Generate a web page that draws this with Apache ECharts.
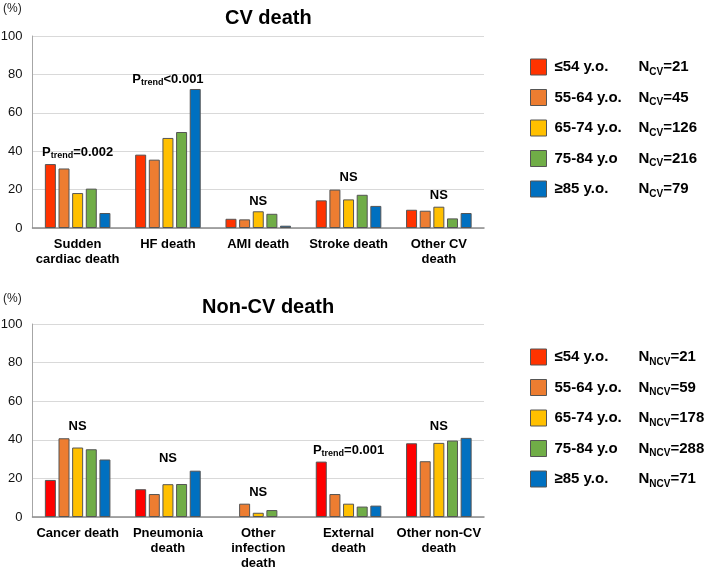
<!DOCTYPE html>
<html><head><meta charset="utf-8">
<script src="https://cdn.jsdelivr.net/npm/echarts@6/dist/echarts.min.js"></script>
<style>html,body{margin:0;padding:0;background:#fff}#c{width:709px;height:570px}</style>
</head><body><div id="c"></div>
<script>
const categoriesCV = ['Sudden\ncardiac death', 'HF death', 'AMI death', 'Stroke death', 'Other CV\ndeath'];
const categoriesNCV = ['Cancer death', 'Pneumonia\ndeath', 'Other\ninfection\ndeath', 'External\ndeath', 'Other non-CV\ndeath'];
const ageGroups = ['≤54 y.o.', '55-64 y.o.', '65-74 y.o.', '75-84 y.o', '≥85 y.o.'];
const nCV = [21, 45, 126, 216, 79];
const nNCV = [21, 59, 178, 288, 71];
const yTicks = [0, 20, 40, 60, 80, 100];

// CV death (%) by age group, per category
const cvAge54 = [33.3, 38.2, 4.8, 14.4, 9.5];
const cvAge55 = [31.0, 35.6, 4.5, 20.0, 9.0];
const cvAge65 = [18.2, 46.9, 8.7, 14.9, 11.1];
const cvAge75 = [20.5, 50.0, 7.4, 17.3, 5.0];
const cvAge85 = [7.8, 72.4, 1.2, 11.5, 7.8];

// Non-CV death (%)
const ncvAge54 = [19.2, 14.4, null, 28.7, 38.2];
const ncvAge55 = [40.8, 11.9, 6.9, 11.9, 28.9];
const ncvAge65 = [36.0, 17.0, 2.2, 6.9, 38.4];
const ncvAge75 = [35.1, 17.1, 3.6, 5.4, 39.6];
const ncvAge85 = [29.8, 24.0, null, 5.9, 41.0];

// annotations: [category index, label type, p-value text, y position]
const cvNotes = [[0, 'p', '=0.002', 39.4], [1, 'p', '<0.001', 77.6], [2, 'ns', 'NS', 13.8], [3, 'ns', 'NS', 26.2], [4, 'ns', 'NS', 17.1]];
const ncvNotes = [[0, 'ns', 'NS', 47.0], [1, 'ns', 'NS', 30.3], [2, 'ns', 'NS', 12.8], [3, 'p', '=0.001', 34.6], [4, 'ns', 'NS', 46.9]];

const topColors = ['#FF3300', '#ED7D31', '#FFC000', '#70AD47', '#0070C0'];
const botColors = ['#FF0000', '#ED7D31', '#FFC000', '#70AD47', '#0070C0'];
const FONT = 'Liberation Sans, Arial, sans-serif';

const chart = echarts.init(document.getElementById('c'));
const cvSets = [cvAge54, cvAge55, cvAge65, cvAge75, cvAge85];
const ncvSets = [ncvAge54, ncvAge55, ncvAge65, ncvAge75, ncvAge85];

function xAxis(cats, gi) {
  return {
    type: 'category', gridIndex: gi, data: cats,
    axisTick: { show: false },
    axisLine: { lineStyle: { color: '#8c8c8c', width: 1.5 } },
    axisLabel: { color: '#000', fontFamily: FONT, fontWeight: 'bold', fontSize: 13, lineHeight: 15, margin: 9, interval: 0 }
  };
}
function yAxis(gi) {
  return {
    type: 'value', gridIndex: gi, min: yTicks[0], max: yTicks[yTicks.length - 1], interval: 20,
    axisLine: { show: true, lineStyle: { color: '#a6a6a6' } },
    axisTick: { show: false },
    splitLine: { lineStyle: { color: '#d9d9d9' } },
    axisLabel: { color: '#111', fontFamily: FONT, fontSize: 13, margin: 10 }
  };
}
const series = [];
ageGroups.forEach((name, i) => {
  series.push({ type: 'bar', name, xAxisIndex: 0, yAxisIndex: 0, data: cvSets[i], barWidth: 11, barGap: '24%',
    itemStyle: { color: topColors[i], borderColor: '#555', borderWidth: 1 } });
});
ageGroups.forEach((name, i) => {
  series.push({ type: 'bar', name, xAxisIndex: 1, yAxisIndex: 1, data: ncvSets[i], barWidth: 11, barGap: '24%',
    itemStyle: { color: botColors[i], borderColor: '#555', borderWidth: 1 } });
});
const noteRich = {
  p: { fontSize: 13, fontWeight: 'bold', color: '#000', fontFamily: FONT, lineHeight: 16, verticalAlign: 'middle' },
  s: { fontSize: 9, fontWeight: 'bold', color: '#000', fontFamily: FONT, lineHeight: 9, verticalAlign: 'bottom' }
};
function noteSeries(notes, cats, gi) {
  return {
    type: 'scatter', name: 'notes' + gi, xAxisIndex: gi, yAxisIndex: gi, symbolSize: 0, silent: true,
    itemStyle: { opacity: 1 },
    data: notes.map(n => ({ value: [cats[n[0]], n[3]], kind: n[1], txt: n[2] })),
    label: { show: true, position: 'inside', color: '#000', opacity: 1, rich: noteRich,
      formatter: p => p.data.kind === 'p' ? `{p|P}{s|trend}{p|${p.data.txt}}` : `{p|${p.data.txt}}` }
  };
}
series.push(noteSeries(cvNotes, categoriesCV, 0));
series.push(noteSeries(ncvNotes, categoriesNCV, 1));

const legRich = {
  a: { fontSize: 15, fontWeight: 'bold', color: '#000', fontFamily: FONT, width: 84, padding: [0, 0, 0, 3], lineHeight: 20 },
  n: { fontSize: 15, fontWeight: 'bold', color: '#000', fontFamily: FONT, lineHeight: 20 },
  s: { fontSize: 10, fontWeight: 'bold', color: '#000', fontFamily: FONT, lineHeight: 10, verticalAlign: 'bottom' }
};
function legend(top, nArr, sub) {
  return {
    data: ageGroups, orient: 'vertical', left: 530, top, padding: 0, itemWidth: 16, itemHeight: 16, itemGap: 12,
    icon: 'rect', selectedMode: false,
    itemStyle: { borderColor: '#555', borderWidth: 1 },
    formatter: name => `{a|${name}}{n|N}{s|${sub}}{n|=${nArr[ageGroups.indexOf(name)]}}`,
    textStyle: { rich: legRich }
  };
}

chart.setOption({
  animation: false,
  textStyle: { fontFamily: FONT },
  title: [
    { text: 'CV death', left: 225, top: 8, padding: 0, textStyle: { fontSize: 20, fontWeight: 'bold', color: '#000', fontFamily: FONT } },
    { text: 'Non-CV death', left: 202, top: 297, padding: 0, textStyle: { fontSize: 20, fontWeight: 'bold', color: '#000', fontFamily: FONT } },
    { text: '(%)', left: 3, top: 3, padding: 0, textStyle: { fontSize: 12, fontWeight: 'normal', color: '#222', fontFamily: FONT } },
    { text: '(%)', left: 3, top: 292.5, padding: 0, textStyle: { fontSize: 12, fontWeight: 'normal', color: '#222', fontFamily: FONT } }
  ],
  grid: [
    { left: 32.5, top: 36, width: 451.5, height: 192, outerBoundsMode: 'none', containLabel: false },
    { left: 32.5, top: 324, width: 451.5, height: 193, outerBoundsMode: 'none', containLabel: false }
  ],
  xAxis: [xAxis(categoriesCV, 0), xAxis(categoriesNCV, 1)],
  yAxis: [yAxis(0), yAxis(1)],
  legend: [legend(58.5, nCV, 'CV'), legend(348.5, nNCV, 'NCV')],
  series
});
</script></body></html>
